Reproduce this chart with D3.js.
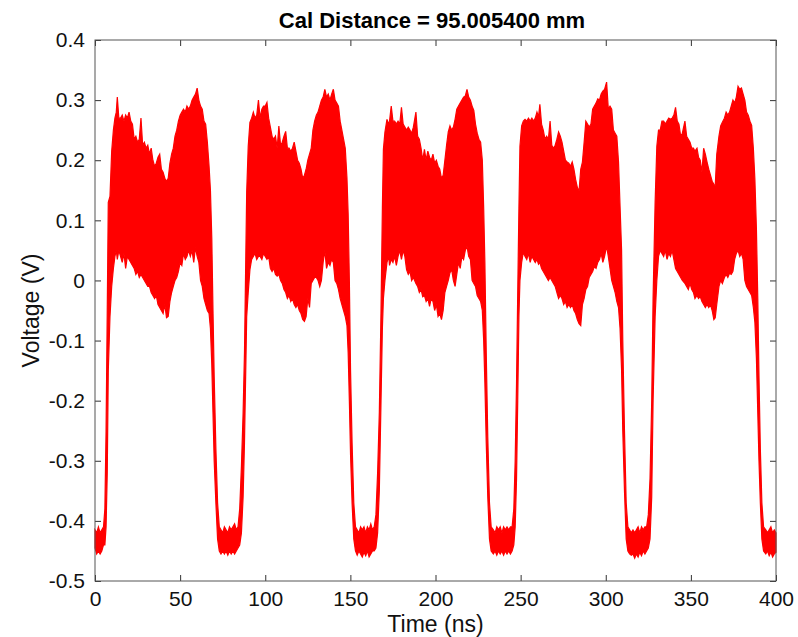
<!DOCTYPE html>
<html>
<head>
<meta charset="utf-8">
<script src="https://cdn.jsdelivr.net/npm/d3@7"></script>
<style>
  body { margin: 0; background: #fff; }
  svg { display: block; font-family: "Liberation Sans", Arial, sans-serif; }
</style>
</head>
<body>
<div id="chart"></div>
<script>
// signal envelope: time (ns), max and min voltage (V)
const timeNs = [
  0, 1, 2, 3, 4, 5,
  5.8, 6.5, 7.2, 7.8, 8.8, 9.8, 10.8, 11.7,
  12.5, 13.1, 14, 15, 16, 17, 18, 19, 20, 21, 22, 23, 24, 25, 26, 27, 28, 29, 30,
  31, 32, 33, 34, 35, 36, 37, 38, 39, 40, 41, 42, 43, 44, 45, 46, 47, 48, 49, 50,
  51, 52, 53, 54, 55, 56, 57, 58, 59, 60, 61, 62, 63, 64, 65, 66, 67, 67.8,
  68.6, 69.3, 70, 71, 72,
  73, 74, 75, 76, 77, 78, 79, 80, 81, 82, 83, 84,
  85, 86, 87, 87.8, 89.1, 90, 91,
  92, 93, 94, 95, 96, 97, 98, 99, 100, 101, 102, 103, 104, 105, 106, 107, 108, 109, 110,
  111, 112, 113, 114, 115, 116, 117, 118, 119, 120, 121, 122, 123, 124, 125, 126, 127, 128, 129, 130,
  131, 132, 133, 134, 135, 136, 137, 138, 139, 140, 141, 142, 143, 144, 145, 146, 147, 148,
  148.7, 149.4, 150.1, 151, 152,
  153, 154, 155, 156, 157, 158, 159, 160, 161, 162, 163, 164,
  165, 166, 167, 168, 168.8, 169.4, 170.3, 171.5,
  172.5, 173, 174, 175, 176, 177, 178, 179, 180, 181, 182, 183, 184, 185, 186, 187, 188.5, 189.5,
  190.5, 191.5, 192.5, 193.5, 194.5, 195.5, 196.5, 197.5, 198.5, 199.5, 200.5, 201.5, 202.5, 203.5,
  204.5, 205.5, 206.5, 207.5, 208.5, 209.5, 210.5, 211.5, 212.5, 213.5, 214.5, 215.5, 216.5, 217.5,
  218.5, 219.5, 220.5, 221.5, 222.5, 223.5, 224.5, 225.5, 226.5, 227.5,
  228.3, 229, 229.8, 230.7, 231.7,
  232.7, 234, 235, 236, 237, 238, 239, 240, 241, 242, 243, 244, 245,
  246, 246.8, 247.6, 248.3, 249, 249.6, 250.6,
  251.6, 252.6, 253.6, 254.6, 255.6, 256.6, 257.6, 258.6, 259.6, 260.5, 261.3, 262.3, 263.3, 264.3,
  265.3, 266.3, 267.3, 268.3, 269.3, 270.3, 271.3, 272.3, 273.3, 274.3, 275.3, 276.3, 277.3, 278.3,
  279.3, 280.3, 281.3, 282.3, 283.3, 284.3, 285.3, 286.3, 287.3, 288.3, 289.3, 290.3, 291.3, 292.3,
  293.3, 294.3, 295.3, 296.3, 297.3, 298.3, 299.3, 300.5, 301.5, 302.5, 303.5, 304.5, 305.5, 306.5, 307.5,
  308.4, 309.3, 310, 311, 312,
  313, 314, 315, 316, 317, 318, 319, 320, 321, 322, 323, 324,
  325, 326, 327, 327.8, 329, 330,
  331, 332, 333, 334, 335, 336, 337, 338, 339, 340, 341, 342, 343, 344, 345, 346.5, 347.5, 348.5,
  349.5, 350.5, 351.5, 352.4, 353.6, 354.5, 355.5, 356.5, 357.5, 358.5, 359.5, 360.5, 361.5, 362.5,
  363.5, 364.3, 365.2, 366.5, 367.5, 368.5, 369.7, 370.7, 371.7, 372.7, 373.7, 374.7, 375.7, 376.7,
  377.7, 378.7, 379.7, 380.7, 381.7, 382.7, 383.7, 384.7, 385.7, 386.7, 387.6,
  388.5, 389.3, 390, 390.8, 391.7,
  392.7, 394, 395, 396, 397, 398, 399, 400
];

const upperV = [
  -0.415, -0.42, -0.41, -0.42, -0.415, -0.41,
  -0.38, -0.25, -0.05, 0.13, 0.14, 0.215, 0.25, 0.27,
  0.28, 0.305, 0.27, 0.27, 0.275, 0.265, 0.275, 0.27, 0.28, 0.265, 0.26, 0.235, 0.24, 0.23, 0.235, 0.27, 0.225, 0.23, 0.22,
  0.225, 0.21, 0.22, 0.2, 0.19, 0.195, 0.205, 0.21, 0.185, 0.18, 0.17, 0.165, 0.17, 0.195, 0.21, 0.22, 0.24, 0.25, 0.265, 0.275,
  0.28, 0.285, 0.28, 0.29, 0.285, 0.29, 0.3, 0.305, 0.31, 0.32, 0.3, 0.29, 0.285, 0.265, 0.26, 0.23, 0.19, 0.15,
  0.07, -0.05, -0.16, -0.28, -0.37,
  -0.41, -0.415, -0.42, -0.41, -0.415, -0.42, -0.41, -0.415, -0.41, -0.405, -0.415, -0.41,
  -0.38, -0.31, -0.22, -0.12, 0.147, 0.223, 0.263,
  0.27, 0.28, 0.27, 0.275, 0.3, 0.27, 0.285, 0.29, 0.29, 0.296, 0.27, 0.255, 0.24, 0.235, 0.24, 0.22, 0.257, 0.225, 0.23,
  0.24, 0.248, 0.22, 0.22, 0.215, 0.22, 0.23, 0.215, 0.2, 0.195, 0.185, 0.17, 0.175, 0.185, 0.2, 0.21, 0.22, 0.25, 0.265, 0.275,
  0.28, 0.29, 0.3, 0.305, 0.318, 0.305, 0.31, 0.3, 0.31, 0.318, 0.3, 0.295, 0.29, 0.265, 0.25, 0.235, 0.22, 0.17,
  0.11, 0.0, -0.15, -0.27, -0.37,
  -0.41, -0.415, -0.42, -0.41, -0.415, -0.41, -0.42, -0.41, -0.415, -0.405, -0.415, -0.41,
  -0.39, -0.32, -0.22, -0.05, 0.12, 0.218, 0.247, 0.268,
  0.26, 0.265, 0.29, 0.265, 0.265, 0.26, 0.265, 0.26, 0.288, 0.26, 0.255, 0.25, 0.255, 0.25, 0.245, 0.255, 0.28, 0.24,
  0.235, 0.22, 0.2, 0.218, 0.2, 0.215, 0.205, 0.2, 0.21, 0.195, 0.2, 0.19, 0.185, 0.17,
  0.175, 0.2, 0.225, 0.247, 0.257, 0.25, 0.255, 0.268, 0.285, 0.29, 0.295, 0.3, 0.305, 0.307,
  0.318, 0.305, 0.3, 0.29, 0.283, 0.26, 0.245, 0.235, 0.23, 0.2,
  0.12, 0.03, -0.12, -0.26, -0.37,
  -0.41, -0.415, -0.42, -0.41, -0.415, -0.41, -0.42, -0.41, -0.415, -0.41, -0.415, -0.41, -0.41,
  -0.38, -0.3, -0.17, -0.02, 0.12, 0.223, 0.257,
  0.265, 0.268, 0.265, 0.27, 0.265, 0.27, 0.265, 0.27, 0.28, 0.272, 0.293, 0.26, 0.25, 0.235,
  0.24, 0.235, 0.265, 0.225, 0.22, 0.225, 0.235, 0.247, 0.24, 0.23, 0.215, 0.2, 0.197, 0.195,
  0.19, 0.197, 0.185, 0.168, 0.155, 0.148, 0.185, 0.197, 0.23, 0.265, 0.26, 0.255, 0.26, 0.285,
  0.29, 0.295, 0.302, 0.3, 0.31, 0.315, 0.318, 0.33, 0.285, 0.29, 0.285, 0.25, 0.245, 0.24, 0.197,
  0.123, 0.05, -0.1, -0.25, -0.37,
  -0.41, -0.415, -0.42, -0.415, -0.42, -0.415, -0.41, -0.42, -0.41, -0.415, -0.41, -0.41,
  -0.39, -0.33, -0.2, -0.03, 0.13, 0.223,
  0.25, 0.25, 0.265, 0.265, 0.26, 0.265, 0.27, 0.268, 0.27, 0.275, 0.288, 0.265, 0.26, 0.24, 0.245, 0.265, 0.24, 0.235,
  0.23, 0.22, 0.22, 0.215, 0.22, 0.205, 0.2, 0.18, 0.22, 0.21, 0.197, 0.185, 0.175, 0.165,
  0.16, 0.157, 0.21, 0.24, 0.257, 0.263, 0.27, 0.28, 0.275, 0.28, 0.29, 0.3, 0.295, 0.305,
  0.323, 0.318, 0.32, 0.31, 0.3, 0.28, 0.275, 0.265, 0.258, 0.22, 0.168,
  0.085, -0.03, -0.16, -0.28, -0.37,
  -0.41, -0.415, -0.42, -0.415, -0.41, -0.42, -0.415, -0.42
];

const lowerV = [
  -0.445, -0.455, -0.45, -0.455, -0.45, -0.44,
  -0.44, -0.41, -0.32, -0.15, -0.06, -0.01, 0.02, 0.04,
  0.05, 0.035, 0.05, 0.04, 0.03, 0.045, 0.02, 0.04, 0.035, 0.03, 0.025, 0.02, 0.01, 0.015, 0.005, 0.01, 0.005, 0.0, -0.005,
  -0.01, -0.01, -0.02, -0.025, -0.03, -0.025, -0.04, -0.045, -0.05, -0.055, -0.04, -0.062, -0.06, -0.035, -0.02, -0.01, 0.0, 0.005, 0.015, 0.03,
  0.025, 0.045, 0.035, 0.04, 0.05, 0.04, 0.05, 0.03, 0.055, 0.04, 0.03, 0.0, -0.01, -0.03, -0.04, -0.05, -0.055, -0.08,
  -0.14, -0.22, -0.3, -0.37, -0.43,
  -0.45, -0.455, -0.45, -0.455, -0.45, -0.457, -0.45, -0.455, -0.45, -0.455, -0.45, -0.445,
  -0.44, -0.42, -0.36, -0.27, -0.06, -0.02, 0.018,
  0.035, 0.04, 0.045, 0.035, 0.04, 0.04, 0.035, 0.045, 0.04, 0.035, 0.04, 0.02, 0.015, 0.02, 0.01, 0.007, 0.01, 0.0, -0.005,
  -0.015, -0.02, -0.03, -0.025, -0.035, -0.03, -0.04, -0.045, -0.04, -0.05, -0.055, -0.065, -0.068, -0.06, -0.03, -0.045, -0.005, 0.0, 0.005, 0.005,
  0.0, -0.01, 0.0, 0.03, 0.05, 0.02, 0.03, 0.025, 0.035, 0.03, 0.0, -0.005, -0.015, -0.03, -0.04, -0.05, -0.06, -0.075,
  -0.12, -0.2, -0.29, -0.37, -0.43,
  -0.45, -0.457, -0.45, -0.455, -0.46, -0.452, -0.458, -0.45, -0.46, -0.455, -0.45, -0.45,
  -0.445, -0.42, -0.35, -0.2, -0.08, -0.03, 0.0, 0.03,
  0.04, 0.025, 0.035, 0.03, 0.04, 0.025, 0.04, 0.05, 0.035, 0.05, 0.04, 0.018, 0.01, 0.015, 0.0, 0.005, -0.005, -0.01,
  -0.02, -0.015, -0.027, -0.025, -0.035, -0.03, -0.043, -0.03, -0.035, -0.05, -0.04, -0.06, -0.055, -0.065,
  -0.05, -0.02, -0.01, 0.0, 0.013, 0.018, 0.0, -0.01, 0.01, 0.03, 0.02, 0.04, 0.035, 0.05,
  0.057, 0.04, 0.035, 0.0, -0.005, -0.01, -0.025, -0.03, -0.035, -0.05,
  -0.1, -0.17, -0.27, -0.36, -0.43,
  -0.45, -0.455, -0.45, -0.457, -0.45, -0.455, -0.45, -0.457, -0.45, -0.455, -0.45, -0.455, -0.45,
  -0.44, -0.41, -0.33, -0.2, -0.06, 0.0, 0.03,
  0.047, 0.04, 0.035, 0.045, 0.03, 0.04, 0.035, 0.03, 0.035, 0.027, 0.03, 0.02, 0.015, 0.01,
  0.005, 0.0, 0.005, 0.0, -0.005, -0.01, -0.02, -0.03, -0.025, -0.03, -0.04, -0.035, -0.045, -0.04,
  -0.045, -0.04, -0.05, -0.055, -0.065, -0.072, -0.075, -0.04, -0.03, -0.015, -0.01, 0.005, 0.01, 0.015,
  0.023, 0.02, 0.03, 0.035, 0.045, 0.03, 0.04, 0.057, 0.04, 0.02, 0.0, -0.01, -0.02, -0.035, -0.045,
  -0.08, -0.15, -0.25, -0.35, -0.43,
  -0.45, -0.455, -0.457, -0.455, -0.462, -0.455, -0.46, -0.452, -0.458, -0.45, -0.455, -0.45,
  -0.445, -0.43, -0.36, -0.2, -0.06, 0.0,
  0.04, 0.05, 0.045, 0.04, 0.05, 0.035, 0.045, 0.04, 0.05, 0.035, 0.02, 0.015, 0.01, 0.005, 0.0, -0.005, -0.01, -0.015,
  -0.005, -0.015, -0.02, -0.03, -0.025, -0.03, -0.027, -0.035, -0.04, -0.045, -0.04, -0.045, -0.04, -0.05,
  -0.065, -0.062, -0.04, -0.01, 0.0, -0.005, 0.005, 0.01, 0.005, 0.012, 0.01, 0.015, 0.035, 0.045,
  0.05, 0.04, 0.045, 0.035, 0.0, -0.01, -0.015, -0.02, -0.025, -0.045, -0.07,
  -0.13, -0.22, -0.3, -0.37, -0.43,
  -0.45, -0.455, -0.45, -0.458, -0.452, -0.46, -0.455, -0.452
];

const xTicks = [0, 50, 100, 150, 200, 250, 300, 350, 400];
const yTicks = [-0.5, -0.4, -0.3, -0.2, -0.1, 0, 0.1, 0.2, 0.3, 0.4];

const titleText = "Cal Distance = 95.005400 mm";
const xLabel = "Time (ns)";
const yLabel = "Voltage (V)";

const width = 798;
const height = 637;
const margin = { top: 40, right: 22, bottom: 56, left: 95 };

const signal = timeNs.map((t, i) => ({ t: t, hi: upperV[i], lo: lowerV[i] }));

const svg = d3.select("#chart")
  .append("svg")
  .attr("width", width)
  .attr("height", height);

const x = d3.scaleLinear()
  .domain([0, 400])
  .range([margin.left, width - margin.right]);

const y = d3.scaleLinear()
  .domain([-0.5, 0.4])
  .range([height - margin.bottom, margin.top]);

const fmt = d => d === 0 ? "0" : String(+d.toFixed(1));

// the trace
const area = d3.area()
  .x(d => x(d.t))
  .y0(d => y(d.lo))
  .y1(d => y(d.hi));

svg.append("path")
  .datum(signal)
  .attr("d", area)
  .attr("fill", "#ff0000")
  .attr("stroke", "#ff0000")
  .attr("stroke-width", 1.2)
  .attr("stroke-linejoin", "miter");

// axes, matlab style box with inward ticks
function xAxis(g) {
  g.attr("transform", `translate(0, ${height - margin.bottom})`)
    .call(d3.axisBottom(x).tickValues(xTicks).tickFormat(d => d).tickSizeInner(-6).tickSizeOuter(0).tickPadding(10))
    .attr("font-size", "21px")
    .attr("font-family", null);
}

function yAxis(g) {
  g.attr("transform", `translate(${margin.left}, 0)`)
    .call(d3.axisLeft(y).tickValues(yTicks).tickFormat(fmt).tickSizeInner(-6).tickSizeOuter(0).tickPadding(10))
    .attr("font-size", "21px")
    .attr("font-family", null);
}

function xAxisTop(g) {
  g.attr("transform", `translate(0, ${margin.top})`)
    .call(d3.axisTop(x).tickValues(xTicks).tickFormat("").tickSizeInner(-6).tickSizeOuter(0));
}

function yAxisRight(g) {
  g.attr("transform", `translate(${width - margin.right}, 0)`)
    .call(d3.axisRight(y).tickValues(yTicks).tickFormat("").tickSizeInner(-6).tickSizeOuter(0));
}

svg.append("g").call(xAxis);
svg.append("g").call(yAxis);
svg.append("g").call(xAxisTop);
svg.append("g").call(yAxisRight);

svg.selectAll(".domain").remove();
svg.selectAll(".tick line").attr("stroke", "#333");
svg.selectAll(".tick text").attr("fill", "#111");

svg.append("rect")
  .attr("x", margin.left)
  .attr("y", margin.top)
  .attr("width", width - margin.left - margin.right)
  .attr("height", height - margin.top - margin.bottom)
  .attr("fill", "none")
  .attr("stroke", "#555")
  .attr("stroke-width", 1);

svg.append("text")
  .attr("x", 432)
  .attr("y", 28)
  .attr("text-anchor", "middle")
  .attr("font-size", "22px")
  .attr("font-weight", "bold")
  .attr("fill", "#000")
  .text(titleText);

svg.append("text")
  .attr("x", (margin.left + width - margin.right) / 2)
  .attr("y", 632)
  .attr("text-anchor", "middle")
  .attr("font-size", "23px")
  .attr("fill", "#111")
  .text(xLabel);

svg.append("text")
  .attr("transform", `translate(39, ${(margin.top + height - margin.bottom) / 2}) rotate(-90)`)
  .attr("text-anchor", "middle")
  .attr("font-size", "23px")
  .attr("fill", "#111")
  .text(yLabel);
</script>
</body>
</html>
